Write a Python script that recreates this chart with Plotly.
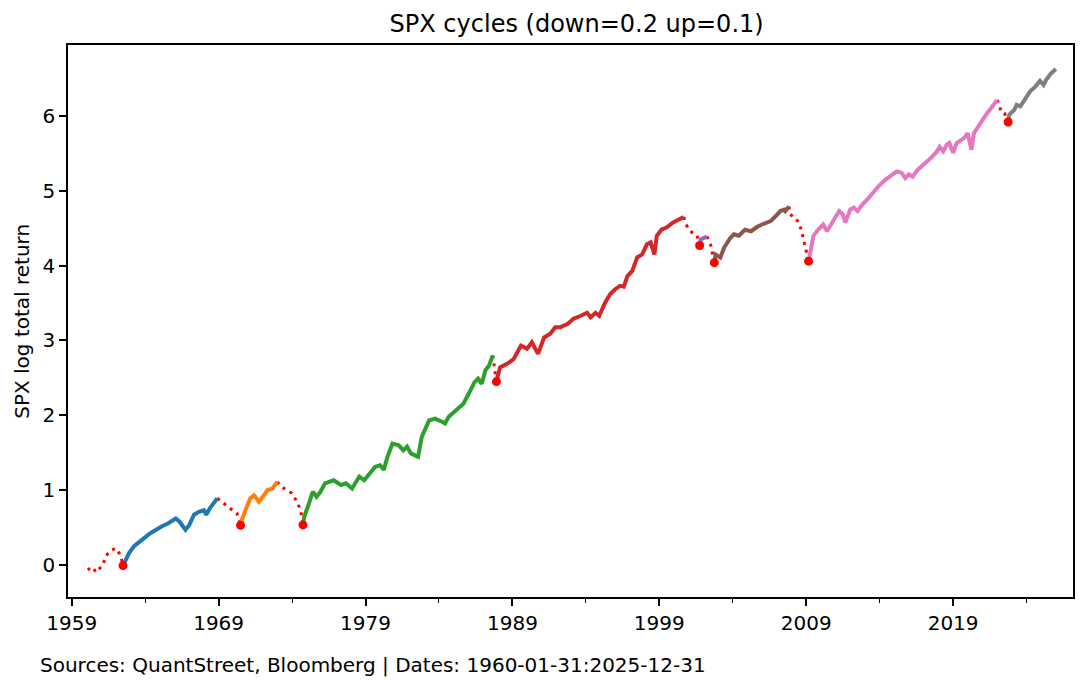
import pandas as pd
import plotly.graph_objects as go

# SPX log total return (month, value)
dates = [
    "1960-01", "1960-05", "1960-08", "1961-01", "1961-05", "1961-09", "1961-12", "1962-04", "1962-06",
    "1962-07", "1962-11", "1963-03", "1963-08", "1964-04", "1965-01", "1965-07", "1966-01", "1966-04",
    "1966-09", "1966-12", "1967-04", "1967-08", "1967-12", "1968-02", "1968-05", "1968-09", "1968-11",
    "1969-04", "1969-09", "1970-03", "1970-06",
    "1970-07", "1970-10", "1971-02", "1971-05", "1971-09", "1972-01", "1972-04", "1972-08", "1972-12",
    "1973-03", "1973-08", "1973-12", "1974-04", "1974-07", "1974-09",
    "1974-10", "1975-01", "1975-05", "1975-08", "1975-11", "1976-03", "1976-10", "1977-04", "1977-08",
    "1978-01", "1978-07", "1978-11", "1979-04", "1979-08", "1979-12", "1980-03", "1980-06", "1980-10",
    "1981-03", "1981-07", "1981-10", "1982-01", "1982-07", "1982-10", "1983-04", "1983-09", "1984-03",
    "1984-05", "1984-08", "1985-02", "1985-04", "1985-08", "1986-01", "1986-05", "1986-08", "1986-11",
    "1987-02", "1987-05", "1987-08",
    "1987-09", "1987-10", "1987-11",
    "1987-12", "1988-02", "1988-08", "1989-01", "1989-07", "1989-12", "1990-04", "1990-09", "1991-02",
    "1991-07", "1991-11", "1992-03", "1992-09", "1993-02", "1993-08", "1994-01", "1994-04", "1994-08",
    "1994-11", "1995-04", "1995-08", "1995-12", "1996-04", "1996-07", "1996-10", "1997-02", "1997-06",
    "1997-10", "1998-02", "1998-05", "1998-08", "1998-10", "1999-02", "1999-06", "1999-11", "2000-01",
    "2000-04", "2000-08",
    "2000-11", "2001-03", "2001-07", "2001-09",
    "2001-10", "2002-03",
    "2002-06", "2002-09",
    "2002-10", "2003-02", "2003-05", "2003-10", "2004-01", "2004-05", "2004-10", "2005-03", "2005-08",
    "2005-12", "2006-04", "2006-07", "2006-11", "2007-03", "2007-06", "2007-07", "2007-10",
    "2007-11", "2008-03", "2008-06", "2008-08", "2008-10", "2008-11", "2009-02",
    "2009-04", "2009-06", "2009-10", "2010-02", "2010-05", "2010-09", "2011-03", "2011-06", "2011-08",
    "2011-12", "2012-03", "2012-06", "2012-10", "2013-02", "2013-06", "2013-11", "2014-05", "2014-10",
    "2015-02", "2015-06", "2015-09", "2015-12", "2016-03", "2016-07", "2016-12", "2017-06", "2017-11",
    "2018-01", "2018-04", "2018-07", "2018-09", "2018-12", "2019-03", "2019-09", "2019-12", "2020-03",
    "2020-05", "2020-10", "2021-03", "2021-07", "2021-11", "2021-12",
    "2022-02", "2022-03", "2022-06", "2022-09",
    "2022-10", "2023-02", "2023-04", "2023-07", "2023-11", "2024-03", "2024-07", "2024-11", "2025-02",
    "2025-04", "2025-08", "2025-12",
]
values = [
    -0.065, -0.03, -0.10, -0.01, 0.14, 0.20, 0.22, 0.13, -0.01,
    0.03, 0.16, 0.25, 0.31, 0.42, 0.51, 0.556, 0.62, 0.58,
    0.47, 0.53, 0.67, 0.71, 0.73, 0.67, 0.76, 0.845, 0.89,
    0.82, 0.76, 0.69, 0.53,
    0.60, 0.73, 0.89, 0.93, 0.845, 0.93, 1.0, 1.02, 1.11,
    1.045, 1.0, 0.956, 0.845, 0.734, 0.534,
    0.646, 0.78, 0.98, 0.91, 0.97, 1.09, 1.13, 1.067, 1.09,
    1.02, 1.18, 1.13, 1.22, 1.31, 1.33, 1.27, 1.445, 1.62,
    1.60, 1.53, 1.58, 1.49, 1.445, 1.71, 1.93, 1.955, 1.91,
    1.89, 1.98, 2.065, 2.09, 2.155, 2.31, 2.44, 2.49, 2.42,
    2.60, 2.665, 2.80,
    2.70, 2.58, 2.45,
    2.53, 2.64, 2.69, 2.75, 2.93, 2.89, 2.975, 2.82, 3.04,
    3.09, 3.175, 3.175, 3.22, 3.29, 3.33, 3.37, 3.31, 3.37,
    3.33, 3.51, 3.62, 3.685, 3.73, 3.72, 3.86, 3.93, 4.11,
    4.15, 4.285, 4.31, 4.15, 4.40, 4.485, 4.51, 4.575, 4.595,
    4.62, 4.65,
    4.51, 4.44, 4.40, 4.27,
    4.35, 4.39,
    4.28, 4.04,
    4.15, 4.11, 4.24, 4.37, 4.42, 4.40, 4.48, 4.46, 4.52,
    4.55, 4.57, 4.595, 4.66, 4.73, 4.75, 4.73, 4.79,
    4.685, 4.64, 4.575, 4.48, 4.35, 4.26, 4.06,
    4.26, 4.40, 4.485, 4.55, 4.46, 4.57, 4.73, 4.685, 4.575,
    4.75, 4.775, 4.73, 4.82, 4.885, 4.97, 5.06, 5.15, 5.22,
    5.26, 5.24, 5.17, 5.22, 5.19, 5.28, 5.35, 5.44, 5.53,
    5.59, 5.53, 5.62, 5.64, 5.51, 5.64, 5.705, 5.77, 5.55,
    5.77, 5.905, 6.02, 6.105, 6.19, 6.215,
    6.15, 6.06, 6.04, 5.92,
    6.02, 6.08, 6.15, 6.13, 6.24, 6.33, 6.39, 6.47, 6.415,
    6.48, 6.57, 6.63,
]

# cycle turning points
troughs = ["1962-06", "1970-06", "1974-09", "1987-11", "2001-09", "2002-09", "2009-02", "2022-09"]
peaks = ["1968-11", "1972-12", "1987-08", "2000-08", "2002-03", "2007-10", "2021-12"]

cycle_colors = ["#1f77b4", "#ff7f0e", "#2ca02c", "#d62728", "#9467bd", "#8c564b", "#e377c2", "#7f7f7f"]

spx = pd.Series(values, index=pd.to_datetime(dates) + pd.offsets.MonthEnd(0))
trough_dt = pd.to_datetime(troughs) + pd.offsets.MonthEnd(0)
peak_dt = pd.to_datetime(peaks) + pd.offsets.MonthEnd(0)

fig = go.Figure()

# drawdowns (peak -> trough) as red dotted lines
dd_starts = [spx.index[0]] + list(peak_dt)
for start, end in zip(dd_starts, trough_dt):
    seg = spx[start:end]
    fig.add_trace(go.Scatter(x=seg.index, y=seg.values, mode="lines",
                             line=dict(color="red", width=3, dash="3px,5px"),
                             showlegend=False, hoverinfo="skip"))

# up cycles (trough -> next peak) in their own colour
cycle_ends = list(peak_dt) + [spx.index[-1]]
for i, (start, end) in enumerate(zip(trough_dt, cycle_ends)):
    seg = spx[start:end]
    fig.add_trace(go.Scatter(x=seg.index, y=seg.values, mode="lines",
                             line=dict(color=cycle_colors[i], width=4),
                             name="cycle %d" % (i + 1), showlegend=False))

# trough markers
fig.add_trace(go.Scatter(x=trough_dt, y=spx[trough_dt].values, mode="markers",
                         marker=dict(color="red", size=9), showlegend=False))

# the page body has an 8px margin, so the figure is 8px smaller than the window
fig.update_layout(
    width=1079, height=682, autosize=False,
    margin=dict(l=60, r=14, t=37, b=93),
    plot_bgcolor="white", paper_bgcolor="white",
    font=dict(family="DejaVu Sans", size=20, color="black"),
    title=dict(text="SPX cycles (down=0.2 up=0.1)", x=0.527, xanchor="center",
               y=1 - 16 / 682, yanchor="middle", yref="container", font=dict(size=24)),
)
fig.update_xaxes(
    type="date", range=["1958-10-01", "2027-03-01"], automargin=False,
    tick0="1959-01-01", dtick="M120", tickformat="%Y",
    showgrid=False, zeroline=False,
    showline=True, linecolor="black", linewidth=1.6, mirror=True,
    ticks="outside", ticklen=7, tickwidth=1.6, tickcolor="black",
    minor=dict(ticks="outside", ticklen=4, tickwidth=1.2, tickcolor="black",
               tick0="1959-01-01", dtick="M60", showgrid=False),
)
fig.update_yaxes(
    range=[-0.43, 6.95], tick0=0, dtick=1, automargin=False,
    showgrid=False, zeroline=False,
    showline=True, linecolor="black", linewidth=1.6, mirror=True,
    ticks="outside", ticklen=7, tickwidth=1.6, tickcolor="black",
)

fig.add_annotation(text="SPX log total return", textangle=-90,
                   xref="paper", yref="paper", x=-0.046, y=0.5,
                   xanchor="center", yanchor="middle", showarrow=False)
fig.add_annotation(text="Sources: QuantStreet, Bloomberg | Dates: 1960-01-31:2025-12-31",
                   xref="paper", yref="paper", x=-0.0299, y=-0.123,
                   xanchor="left", yanchor="middle", showarrow=False)

fig.write_html("out.html")
